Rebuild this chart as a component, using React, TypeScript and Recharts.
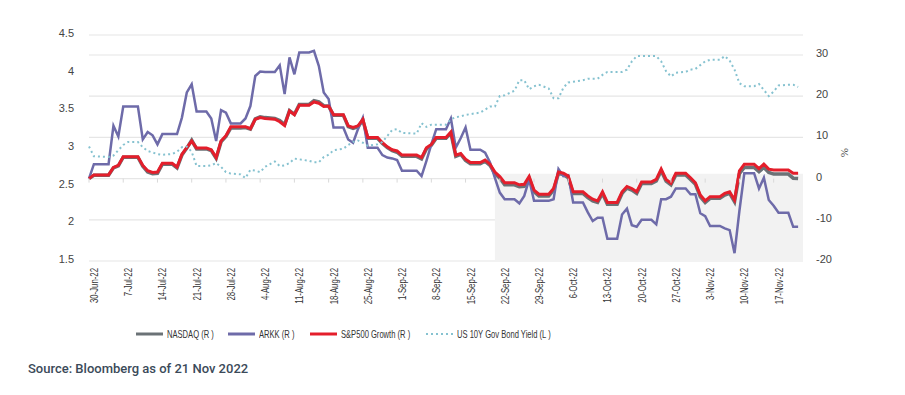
import { CartesianGrid, Line, LineChart, ReferenceArea, XAxis, YAxis } from "recharts";

// days since 30-Jun-22; one row per week (trading days, then the last non-trading day before the next week)
const dayOffsets = [
  0, 1, 4,
  5, 6, 7, 8, 10,
  11, 12, 13, 14, 15, 17,
  18, 19, 20, 21, 22, 24,
  25, 26, 27, 28, 29, 31,
  32, 33, 34, 35, 36, 38,
  39, 40, 41, 42, 43, 45,
  46, 47, 48, 49, 50, 52,
  53, 54, 55, 56, 57, 59,
  60, 61, 62, 63, 64, 67,
  68, 69, 70, 71, 73,
  74, 75, 76, 77, 78, 80,
  81, 82, 83, 84, 85, 87,
  88, 89, 90, 91, 92, 94,
  95, 96, 97, 98, 99, 101,
  102, 103, 104, 105, 106, 108,
  109, 110, 111, 112, 113, 115,
  116, 117, 118, 119, 120, 122,
  123, 124, 125, 126, 127, 129,
  130, 131, 132, 133, 134, 136,
  137, 138, 139, 140, 141, 143,
  144, 145,
];

const nasdaq = [
  0, 0.8, 0.8,
  2.6, 3.1, 5.2, 5.2, 5.2,
  3.0, 1.6, 1.2, 1.3, 3.5, 3.5,
  2.6, 5.7, 7.4, 9.3, 7.2, 7.2,
  6.8, 4.9, 8.9, 10.2, 12.3, 12.3,
  12.4, 12.0, 14.5, 15.0, 14.8, 14.6,
  14.1, 13.1, 16.5, 15.6, 18.0, 18.0,
  18.9, 18.6, 17.7, 17.6, 15.4, 15.4,
  12.6, 12.2, 12.6, 14.2, 9.8, 9.8,
  8.5, 7.5, 6.8, 6.4, 5.4, 5.4,
  4.8, 7.2, 8.1, 9.8, 9.8,
  11.1, 5.4, 5.9, 4.4, 3.6, 3.6,
  4.2, 3.2, 1.2, 0.1, -1.5, -1.5,
  -2.0, -1.9, 0.1, -3.2, -4.2, -4.2,
  -2.8, 1.3, 1.0, 0.2, -3.6, -3.6,
  -4.6, -5.4, -5.8, -3.6, -6.2, -6.2,
  -3.6, -2.3, -2.8, -3.6, -1.2, -1.2,
  -0.6, 1.9, -0.6, -1.5, 0.9, 0.9,
  -0.2, -1.4, -4.4, -5.8, -4.8, -4.8,
  -4.0, -3.6, -5.6, 1.2, 2.7, 2.7,
  1.7, 2.7, 1.5, 1.1, 1.1, 1.1,
  0.1, 0.0,
];

const arkk = [
  0, 3.5, 3.5,
  12.8, 10.2, 17.5, 17.5, 17.5,
  9.5, 11.3, 10.5, 8.3, 10.8, 10.8,
  10.8, 14.8, 20.9, 22.9, 16.3, 16.3,
  14.6, 9.1, 16.6, 16.0, 13.4, 13.4,
  14.6, 17.6, 24.9, 26.0, 25.9, 25.9,
  27.5, 20.5, 29.4, 25.3, 30.6, 30.6,
  31.0, 27.3, 20.9, 19.3, 12.4, 12.4,
  9.5, 8.7, 12.0, 14.8, 7.5, 7.5,
  5.7, 5.1, 4.9, 4.5, 1.9, 1.9,
  0.6, 4.3, 8.3, 12.0, 12.0,
  14.6, 7.5, 9.8, 12.4, 7.0, 7.0,
  6.3, 3.9, 0.2, -3.4, -5.0, -5.0,
  -6.0, -4.2, -0.2, -5.4, -5.4, -5.4,
  -5.0, 2.3, 0.6, 0.8, -5.8, -5.8,
  -8.2, -10.3, -9.5, -9.5, -14.6, -14.6,
  -8.7, -7.3, -11.3, -11.7, -10.0, -10.0,
  -11.1, -5.0, -5.0, -4.4, -2.4, -2.4,
  -3.8, -3.8, -8.4, -9.1, -11.5, -11.5,
  -12.1, -12.5, -18.1, -7.8, 1.3, 1.3,
  -2.4, 0.2, -5.2, -6.6, -8.3, -8.3,
  -11.7, -11.7,
];

const spxGrowth = [
  0, 0.9, 0.9,
  2.7, 3.2, 5.3, 5.3, 5.3,
  3.2, 1.9, 1.5, 1.6, 3.7, 3.7,
  2.8, 5.9, 7.5, 9.1, 7.4, 7.4,
  7.0, 5.1, 9.1, 10.4, 12.6, 12.6,
  12.6, 12.1, 14.4, 14.8, 14.6, 14.4,
  13.8, 12.9, 16.4, 15.5, 17.8, 17.8,
  18.6, 18.3, 17.5, 17.6, 15.5, 15.5,
  12.8, 12.4, 12.8, 14.4, 10.0, 10.0,
  8.7, 7.7, 7.0, 6.7, 5.7, 5.7,
  5.1, 7.5, 8.3, 10.0, 10.0,
  11.3, 5.7, 6.1, 4.7, 3.9, 3.9,
  4.5, 3.5, 1.6, 0.5, -1.0, -1.0,
  -1.5, -1.4, 0.5, -2.8, -3.8, -3.8,
  -2.4, 1.6, 1.3, 0.6, -3.2, -3.2,
  -4.2, -5.0, -5.4, -3.2, -5.8, -5.8,
  -3.2, -1.9, -2.4, -3.2, -0.8, -0.8,
  -0.2, 2.3, -0.2, -1.1, 1.3, 1.3,
  0.2, -1.0, -4.0, -5.4, -4.4, -4.4,
  -3.6, -3.2, -5.2, 1.9, 3.5, 3.5,
  2.4, 3.5, 2.3, 2.1, 2.1, 2.1,
  1.3, 1.3,
];

const us10y = [
  3.02, 2.89, 2.88,
  2.9, 2.97, 3.04, 3.08, 3.08,
  3.01, 2.96, 2.94, 2.92, 2.91, 2.92,
  2.95, 3.01, 3.02, 2.95, 2.76, 2.76,
  2.77, 2.8, 2.75, 2.68, 2.66, 2.65,
  2.6, 2.71, 2.7, 2.68, 2.75, 2.82,
  2.76, 2.77, 2.8, 2.86, 2.85, 2.83,
  2.81, 2.81, 2.88, 2.91, 2.97, 2.99,
  3.04, 3.08, 3.1, 3.07, 3.03, 3.05,
  3.08, 3.16, 3.24, 3.25, 3.2, 3.19,
  3.33, 3.28, 3.31, 3.31, 3.31,
  3.38, 3.41, 3.42, 3.44, 3.45, 3.47,
  3.51, 3.55, 3.55, 3.69, 3.7, 3.76,
  3.9, 3.9, 3.78, 3.82, 3.84, 3.79,
  3.66, 3.66, 3.8, 3.87, 3.88, 3.9,
  3.92, 3.92, 3.92, 3.97, 4.01, 4.01,
  4.01, 4.04, 4.15, 4.22, 4.22, 4.22,
  4.22, 4.15, 4.02, 3.95, 4.0, 4.01,
  4.04, 4.05, 4.1, 4.15, 4.17, 4.17,
  4.22, 4.16, 4.04, 3.86, 3.82, 3.82,
  3.85, 3.77, 3.69, 3.75, 3.83, 3.84,
  3.84, 3.81,
];

const tickDays = [0, 7, 14, 21, 28, 35, 42, 49, 56, 63, 70, 77, 84, 91, 98, 105, 112, 119, 126, 133, 140];
const tickLabels = [
  "30-Jun-22", "7-Jul-22", "14-Jul-22", "21-Jul-22", "28-Jul-22", "4-Aug-22", "11-Aug-22",
  "18-Aug-22", "25-Aug-22", "1-Sep-22", "8-Sep-22", "15-Sep-22", "22-Sep-22", "29-Sep-22",
  "6-Oct-22", "13-Oct-22", "20-Oct-22", "27-Oct-22", "3-Nov-22", "10-Nov-22", "17-Nov-22",
];
const leftTicks = [1.5, 2, 2.5, 3, 3.5, 4, 4.5];
const rightTicks = [-20, -10, 0, 10, 20, 30];

// shaded period (from ~22-Sep)
const shadeFrom = 83;
const shadeTop = 1.2;

const data = dayOffsets.map((day, i) => ({
  day,
  nasdaq: nasdaq[i],
  arkk: arkk[i],
  spx: spxGrowth[i],
  us10y: us10y[i],
}));

const series = [
  { key: "nasdaq", name: "NASDAQ (R )", color: "#6b7276", width: 3.5, dash: undefined, axis: "right" },
  { key: "arkk", name: "ARKK (R )", color: "#6e6ba9", width: 2.5, dash: undefined, axis: "right" },
  { key: "spx", name: "S&P500 Growth (R )", color: "#e41e2b", width: 3, dash: undefined, axis: "right" },
  { key: "us10y", name: "US 10Y Gov Bond Yield (L )", color: "#86c2d0", width: 2, dash: "2 3", axis: "left" },
];
const legendX = [136, 228, 310, 426];

const W = 905;
const H = 395;
const TOP = 35;
const PLOT_H = 226;
const R_MIN = -20;
const R_MAX = 34.85;
const FONT = "'Liberation Sans', Arial, sans-serif";
const zeroOffset = (PLOT_H * (0 - R_MIN)) / (R_MAX - R_MIN); // px from plot bottom up to 0%

const DateTick = (props: any) => {
  const { x, y, payload } = props;
  const label = tickLabels[tickDays.indexOf(payload.value)];
  return (
    <g>
      <line x1={x} x2={x} y1={y - zeroOffset} y2={y - zeroOffset + 4} stroke="#d9d9d9" />
      <text
        transform={`translate(${x + 9}, ${y + 7}) rotate(-90) scale(0.78, 1)`}
        textAnchor="end"
        fontSize={10}
        fill="#333"
        fontFamily={FONT}
      >
        {label}
      </text>
    </g>
  );
};

const ValueTick = (props: any) => {
  const { x, y, payload, anchor } = props;
  return (
    <text x={x} y={y + 2} textAnchor={anchor} fontSize={11} fill="#444" fontFamily={FONT}>
      {payload.value}
    </text>
  );
};

export default function App() {
  return (
    <div style={{ position: "absolute", left: 0, top: 0, width: W, height: H, background: "#fff" }}>
      <LineChart width={W} height={H} data={data} margin={{ top: TOP, right: 62, left: 49, bottom: 0 }}>
        <ReferenceArea
          yAxisId="right"
          x1={shadeFrom}
          x2={146}
          y1={R_MIN}
          y2={shadeTop}
          fill="#f2f2f2"
          fillOpacity={1}
          stroke="none"
        />
        <CartesianGrid yAxisId="right" vertical={false} stroke="#e6e6e6" strokeWidth={1.2} />
        <XAxis
          dataKey="day"
          type="number"
          domain={[0, 146]}
          ticks={tickDays}
          interval={0}
          height={134}
          axisLine={false}
          tickLine={false}
          tickSize={0}
          tickMargin={0}
          tick={<DateTick />}
        />
        <YAxis
          yAxisId="left"
          orientation="left"
          domain={[1.5, 4.5]}
          ticks={leftTicks}
          width={40}
          axisLine={false}
          tickLine={false}
          tickSize={0}
          tickMargin={15}
          tick={<ValueTick anchor="end" />}
        />
        <YAxis
          yAxisId="right"
          orientation="right"
          domain={[R_MIN, R_MAX]}
          ticks={rightTicks}
          width={40}
          axisLine={false}
          tickLine={false}
          tickSize={0}
          tickMargin={13}
          tick={<ValueTick anchor="start" />}
          label={{ value: "%", angle: 90, position: "right", offset: 2, fontSize: 11, fill: "#444" }}
        />
        {series.map((s) => (
          <Line
            key={s.key}
            yAxisId={s.axis}
            type="linear"
            dataKey={s.key}
            name={s.name}
            stroke={s.color}
            strokeWidth={s.width}
            strokeDasharray={s.dash}
            dot={false}
            activeDot={false}
            isAnimationActive={false}
          />
        ))}
      </LineChart>
      {series.map((s, i) => (
        <div
          key={s.key}
          style={{
            position: "absolute",
            top: 328,
            left: legendX[i],
            display: "flex",
            alignItems: "center",
            gap: 4,
            fontFamily: FONT,
            fontSize: 11,
            color: "#333",
            whiteSpace: "nowrap",
          }}
        >
          <svg width={27} height={6}>
            <line
              x1={0}
              x2={27}
              y1={3}
              y2={3}
              stroke={s.color}
              strokeWidth={s.key === "us10y" ? 2 : 3}
              strokeDasharray={s.dash}
            />
          </svg>
          <span style={{ display: "inline-block", transform: "scaleX(0.69)", transformOrigin: "left center" }}>
            {s.name}
          </span>
        </div>
      ))}
      <div
        style={{
          position: "absolute",
          left: 28,
          top: 361,
          fontFamily: "Roboto, 'Noto Sans', sans-serif",
          fontWeight: 500,
          fontSize: 13,
          color: "#3b4a59",
        }}
      >
        Source: Bloomberg as of 21 Nov 2022
      </div>
    </div>
  );
}
